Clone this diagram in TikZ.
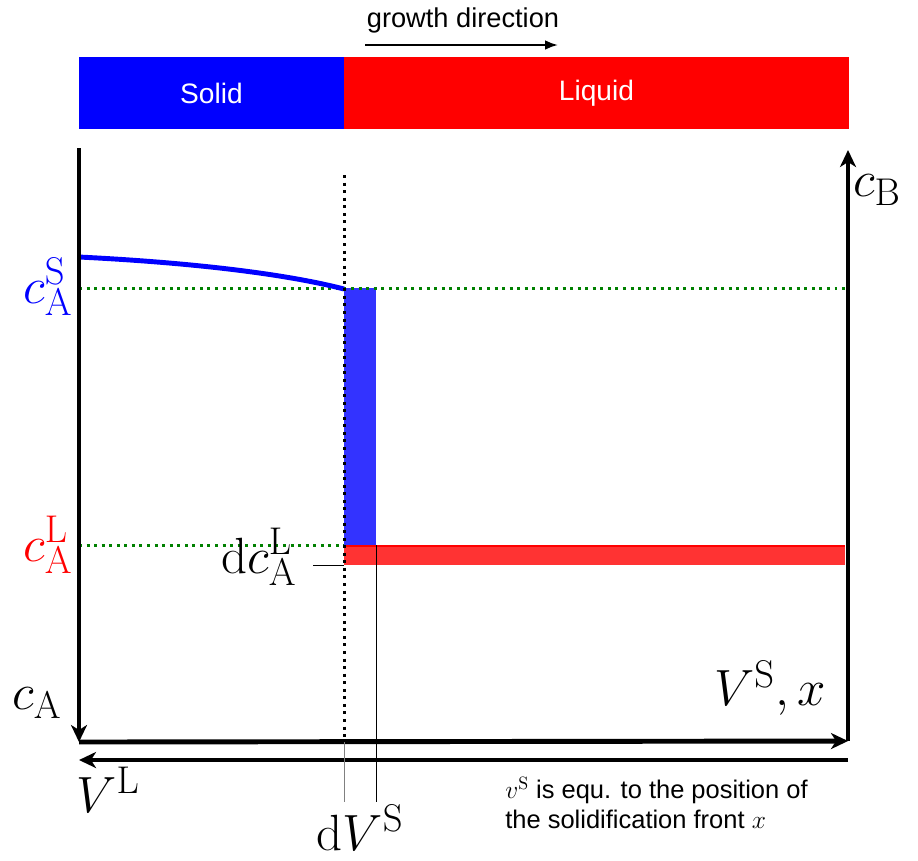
\RequirePackage{fix-cm}
\documentclass[tikz,border=0pt]{standalone}
\usepackage[no-math]{fontspec}
\setmainfont{Liberation Sans}
\usepackage{tikz}
\usetikzlibrary{arrows.meta, positioning}
\DeclareMathSizes{29}{29}{22}{16}

\begin{document}
\begin{tikzpicture}[x=0.02cm, y=-0.02cm,
    axis/.style={line width=2.8pt, -{Stealth[length=3.4mm, width=3.2mm, inset=1mm]}},
    bar/.style={minimum height=1.44cm, inner sep=0pt, text=white, font=\fontsize{16}{19}\selectfont},
    lbl/.style={inner sep=0pt, font=\fontsize{29}{32}\selectfont},
    dots/.style={line width=1.7pt, dash pattern=on 1.7pt off 2.6pt},
    thinln/.style={line width=0.5pt}]
    \useasboundingbox (0,0) rectangle (918,860);

    % phase bars
    \node[bar, fill=blue, minimum width=5.3cm] (solid) at (211.5,93) {Solid};
    \node[bar, fill=red, minimum width=10.1cm] (liquid) at (596.5,93) {Liquid};

    % growth direction
    \node[font=\fontsize{15.5}{18}\selectfont] (growth) at (463,20) {growth direction};
    \coordinate (gs) at (365,45);
    \coordinate (ge) at (558,45);
    \draw[line width=1.2pt, -{Latex[length=2.6mm]}] (gs) -- (ge);

    % segregated amounts
    \fill[blue!80] (344,288) rectangle (376,545);
    \fill[red!80] (344,545) rectangle (845,565);
    \draw[red, line width=1.5pt] (344,546) -- (845,546);

    % concentration levels
    \coordinate (sl) at (79,288);
    \coordinate (sr) at (848,288);
    \coordinate (ll) at (79,545);
    \coordinate (lr) at (344,545);
    \draw[dots, green!50!black] (sl) -- (sr);
    \draw[dots, green!50!black] (ll) -- (lr);

    % solid profile
    \coordinate (c0) at (79,257);
    \coordinate (c1) at (344,289);
    \draw[blue, line width=2.8pt] (c0) .. controls (200,263) and (290,275) .. (c1);

    % front
    \coordinate (ft) at (344,175);
    \coordinate (fb) at (344,742);
    \draw[dots, black] (ft) -- (fb);

    % axes
    \coordinate (tl) at (79,148);
    \coordinate (bl) at (79,742);
    \coordinate (br) at (848,741);
    \coordinate (tr) at (848,150);
    \coordinate (vr) at (848,760);
    \coordinate (vl) at (79,760);
    \draw[axis] (tl) -- (bl);
    \draw[axis] (bl) -- (br);
    \draw[axis] (br) -- (tr);
    \draw[axis] (vr) -- (vl);

    % dV and dc marks
    \coordinate (d1) at (344,802);
    \coordinate (d2) at (376,545);
    \coordinate (d3) at (376,802);
    \coordinate (t1) at (313,565);
    \coordinate (t2) at (344,565);
    \draw[thinln, gray] (fb) -- (d1);
    \draw[thinln] (d2) -- (d3);
    \draw[thinln] (t1) -- (t2);

    % labels
    \node[lbl, text=blue] (cAS) at (48,287) {$c_{\mathrm{A}}^{\mathrm{S}}$};
    \node[lbl, text=red] (cAL) at (48,545) {$c_{\mathrm{A}}^{\mathrm{L}}$};
    \node[lbl] (dcAL) at (259,557) {$\mathrm{d}c_{\mathrm{A}}^{\mathrm{L}}$};
    \node[lbl] (cA) at (37,703) {$c_{\mathrm{A}}$};
    \node[lbl] (cB) at (877,190) {$c_{\mathrm{B}}$};
    \node[lbl] (VL) at (108,790) {$V^{\mathrm{L}}$};
    \node[lbl] (dVS) at (360,828) {$\mathrm{d}V^{\mathrm{S}}$};
    \node[lbl] (VSx) at (770,688) {$V^{\mathrm{S}},x$};
    \node[anchor=west, align=left, inner sep=0pt, font=\fontsize{14.5}{17}\selectfont] (note) at (505,803)
        {$v^{\mathrm{S}}$ is equ. to the position of\\the solidification front $x$};
\end{tikzpicture}
\end{document}
